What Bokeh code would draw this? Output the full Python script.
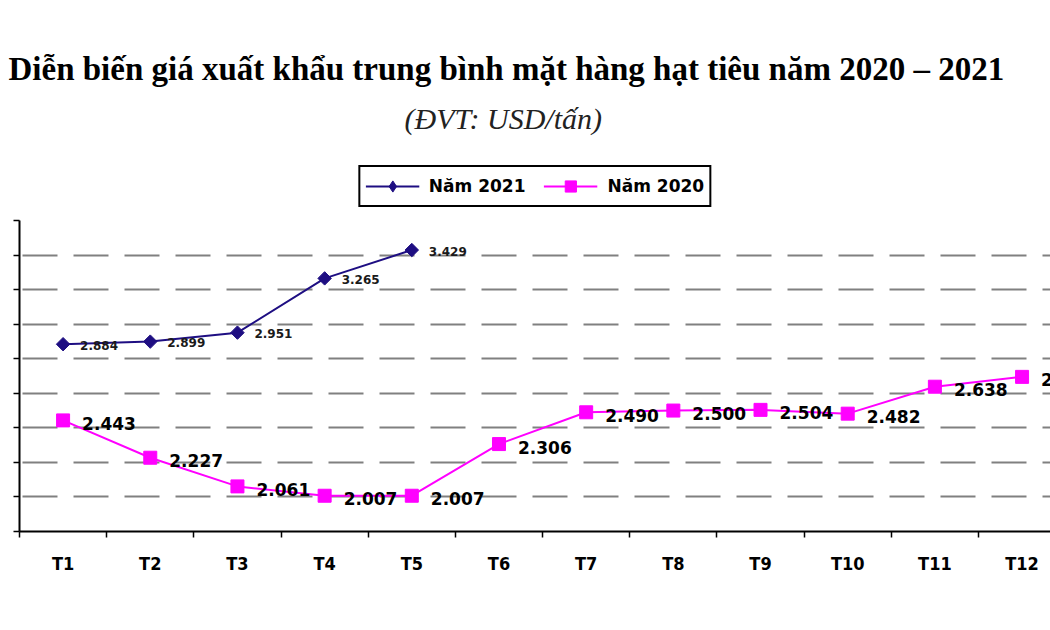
from bokeh.plotting import figure
from bokeh.models import ColumnDataSource, FixedTicker, Legend, LegendItem, Title, Range1d
from bokeh.embed import file_html
from bokeh.resources import INLINE
from bokeh.core.properties import value

# ---- data ----
months = ["T1", "T2", "T3", "T4", "T5", "T6", "T7", "T8", "T9", "T10", "T11", "T12"]
price_2021 = [2.884, 2.899, 2.951, 3.265, 3.429]
price_2020 = [2.443, 2.227, 2.061, 2.007, 2.007, 2.306, 2.490, 2.500, 2.504, 2.482, 2.638, 2.695]
y_ticks = [1.8, 2.0, 2.2, 2.4, 2.6, 2.8, 3.0, 3.2, 3.4, 3.6]

title_text = "Diễn biến giá xuất khẩu trung bình mặt hàng hạt tiêu năm 2020 – 2021"
subtitle_text = "(ĐVT: USD/tấn)"
name_2021 = "Năm 2021"
name_2020 = "Năm 2020"

NAVY = "#1E0E82"
MAGENTA = "#FF00FF"

x_pos = list(range(1, len(months) + 1))
src21 = ColumnDataSource(dict(x=x_pos[:len(price_2021)], y=price_2021,
                              label=[f"{v:.3f}" for v in price_2021]))
src20 = ColumnDataSource(dict(x=x_pos[:len(price_2020)], y=price_2020,
                              label=[f"{v:.3f}" for v in price_2020]))

# layout: frame from y=140 to y=531 px; the 3.6 tick sits at y=220
y_top = y_ticks[-1] + 80 * (y_ticks[-1] - y_ticks[0]) / 311.0
x_end = 0.5 + (1050 - 19) / 87.18

p = figure(width=1050, height=630,
           x_range=Range1d(0.5, x_end), y_range=Range1d(y_ticks[0], y_top),
           output_backend="svg", toolbar_location=None,
           min_border_left=19, min_border_right=0, min_border_top=140, min_border_bottom=99)
p.outline_line_color = None
p.background_fill_color = "white"

# grid
p.xgrid.visible = False
p.ygrid.ticker = FixedTicker(ticks=y_ticks[1:-1])
p.ygrid.grid_line_color = "#808080"
p.ygrid.grid_line_width = 2
p.ygrid.grid_line_dash = "35 16"
p.ygrid.grid_line_dash_offset = 48

# x axis
p.xaxis.ticker = FixedTicker(ticks=x_pos, minor_ticks=[i - 0.5 for i in x_pos])
p.xaxis.major_label_overrides = {i: m for i, m in zip(x_pos, months)}
p.xaxis.major_tick_out = 0
p.xaxis.major_tick_in = 0
p.xaxis.minor_tick_out = 6
p.xaxis.minor_tick_in = 0
p.xaxis.minor_tick_line_color = "black"
p.xaxis.minor_tick_line_width = 1.5
p.xaxis.axis_line_color = "black"
p.xaxis.axis_line_width = 2
p.xaxis.major_label_standoff = 15
p.xaxis.major_label_text_font = "DejaVu Sans Condensed, DejaVu Sans"
p.xaxis.major_label_text_font_style = "bold"
p.xaxis.major_label_text_font_size = "18px"
p.xaxis.major_label_text_color = "black"

# y axis (its labels are cut off in the reference)
p.yaxis.ticker = FixedTicker(ticks=y_ticks)
p.yaxis.bounds = (y_ticks[0], y_ticks[-1])
p.yaxis.major_tick_out = 6
p.yaxis.major_tick_in = 0
p.yaxis.major_tick_line_color = "black"
p.yaxis.major_tick_line_width = 1.5
p.yaxis.minor_tick_line_color = None
p.yaxis.axis_line_color = "black"
p.yaxis.axis_line_width = 2
p.yaxis.major_label_text_font_size = "1px"
p.yaxis.major_label_text_alpha = 0
p.yaxis.major_label_standoff = 0

# series
l21 = p.line("x", "y", source=src21, line_color=NAVY, line_width=2)
m21 = p.scatter("x", "y", source=src21, marker="square", angle=0.785398, size=9.5,
                fill_color=NAVY, line_color=NAVY)
# diamond glyph for the legend only (legend markers are never rotated)
m21_leg = p.scatter("x", "y", source=src21, marker="diamond", size=13,
                    fill_color=NAVY, line_color=NAVY, visible=False)
l20 = p.line("x", "y", source=src20, line_color=MAGENTA, line_width=2)
m20 = p.scatter("x", "y", source=src20, marker="square", size=13,
                fill_color=MAGENTA, line_color=MAGENTA)

p.text("x", "y", text="label", source=src21, x_offset=17, y_offset=1,
       text_font=value("DejaVu Sans"), text_font_style="bold", text_font_size="12px",
       text_baseline="middle", text_align="left", text_color="#1a1a1a")
p.text("x", "y", text="label", source=src20, x_offset=19, y_offset=3,
       text_font=value("DejaVu Sans"), text_font_style="bold", text_font_size="17px",
       text_baseline="middle", text_align="left", text_color="black")

legend = Legend(items=[LegendItem(label=name_2021, renderers=[l21, m21_leg]),
                       LegendItem(label=name_2020, renderers=[l20, m20])],
                orientation="horizontal", location="top_center",
                border_line_color="black", border_line_width=2, border_line_alpha=1,
                background_fill_color="white", background_fill_alpha=1,
                padding=5, spacing=18, glyph_width=54, glyph_height=28,
                label_height=28, label_standoff=10, margin=25,
                label_text_font="DejaVu Sans", label_text_font_style="bold",
                label_text_font_size="17px", label_text_color="black")
p.add_layout(legend, "center")

p.add_layout(Title(text=subtitle_text, text_font="Liberation Serif", text_font_style="italic",
                   text_font_size="30px", text_color="#222222", align="left", offset=385,
                   standoff=12), "above")
p.add_layout(Title(text=title_text, text_font="Liberation Serif", text_font_style="bold",
                   text_font_size="33px", text_color="black", align="left", offset=-11,
                   standoff=14), "above")

open("out.html", "w").write(file_html(p, INLINE))
